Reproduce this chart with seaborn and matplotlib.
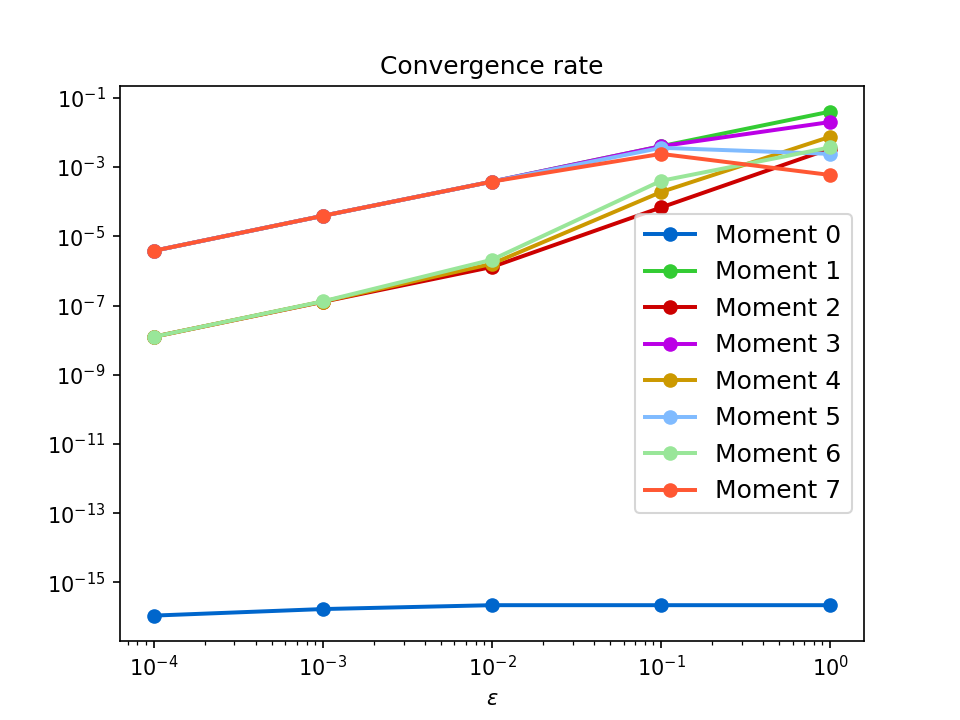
import matplotlib
matplotlib.use('Agg')
import matplotlib.pyplot as plt
import seaborn as sns

# step sizes
eps = [1e-4, 1e-3, 1e-2, 1e-1, 1e0]

# error for each moment
moment0 = [1.1e-16, 1.7e-16, 2.2e-16, 2.2e-16, 2.2e-16]
moment1 = [3.8e-6, 3.9e-5, 3.8e-4, 4.0e-3, 4.0e-2]
moment2 = [1.25e-8, 1.28e-7, 1.3e-6, 6.8e-5, 3.4e-3]
moment3 = [3.8e-6, 3.9e-5, 3.8e-4, 4.0e-3, 2.0e-2]
moment4 = [1.25e-8, 1.3e-7, 1.6e-6, 1.9e-4, 7.5e-3]
moment5 = [3.8e-6, 3.9e-5, 3.8e-4, 3.6e-3, 2.4e-3]
moment6 = [1.25e-8, 1.32e-7, 2.1e-6, 4.0e-4, 3.7e-3]
moment7 = [3.8e-6, 3.9e-5, 3.8e-4, 2.4e-3, 5.9e-4]

labels = ['Moment 0', 'Moment 1', 'Moment 2', 'Moment 3',
          'Moment 4', 'Moment 5', 'Moment 6', 'Moment 7']
series = [moment0, moment1, moment2, moment3, moment4, moment5, moment6, moment7]
colors = ['#0066cc', '#33cc33', '#cc0000', '#bb00e6',
          '#cc9900', '#80bbff', '#99e699', '#ff5733']

fig, ax = plt.subplots(figsize=(6.4, 4.8), dpi=150)

for name, vals, col in zip(labels, series, colors):
    sns.lineplot(x=eps, y=vals, ax=ax, color=col, label=name, marker='o',
                 markersize=7, markeredgewidth=0, linewidth=1.9)

ax.set_xscale('log')
ax.set_yscale('log')
ax.set_title('Convergence rate')
ax.set_xlabel(r'$\epsilon$')
ax.legend(loc='center right', fontsize=12)

fig.savefig('out.png', dpi=150)
